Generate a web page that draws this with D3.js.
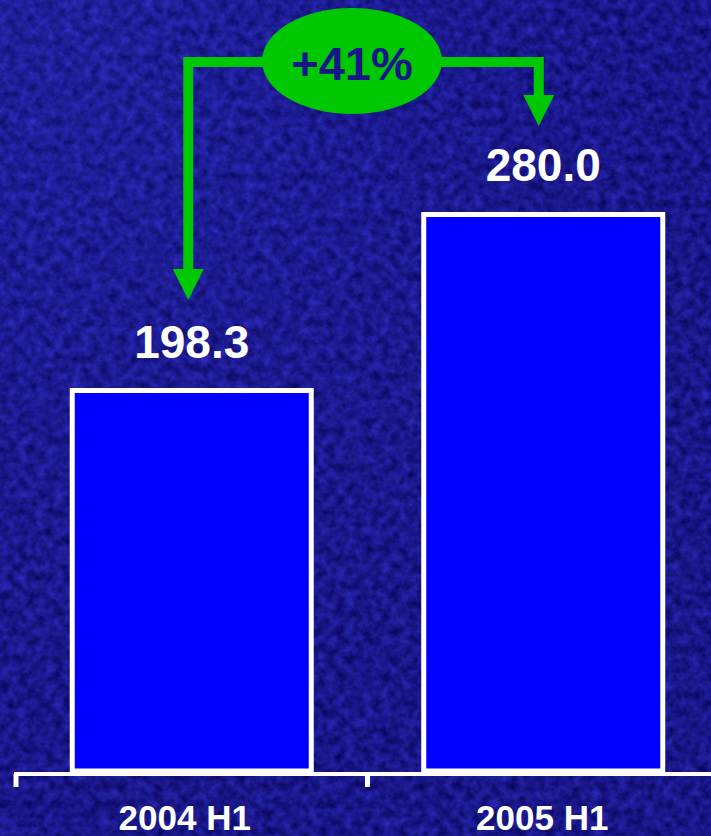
<!DOCTYPE html>
<html>
<head>
<meta charset="utf-8">
<script src="https://cdn.jsdelivr.net/npm/d3@7"></script>
<style>
  html, body { margin: 0; padding: 0; background: #1e1e90; }
  svg { display: block; }
</style>
</head>
<body>
<div id="chart"></div>
<script>
// Half-year results
const categories = ["2004 H1", "2005 H1"];
const values = [198.3, 280.0];
const valueLabels = ["198.3", "280.0"];
const growthLabel = "+41%";

const W = 711, H = 836;
const svg = d3.select("#chart").append("svg")
  .attr("width", W).attr("height", H);

// Textured dark-blue backdrop
const defs = svg.append("defs");
const f = defs.append("filter").attr("id", "tex")
  .attr("x", 0).attr("y", 0).attr("width", "100%").attr("height", "100%")
  .attr("color-interpolation-filters", "sRGB");
f.append("feTurbulence").attr("type", "fractalNoise")
  .attr("baseFrequency", "0.11").attr("numOctaves", 4).attr("seed", 7);
f.append("feColorMatrix").attr("type", "matrix").attr("values",
  "0.20 0 0 0 0.01  0.20 0 0 0 0.0  0.55 0 0 0 0.29  0 0 0 0 1");
svg.append("rect").attr("width", W).attr("height", H).attr("filter", "url(#tex)");

const grad = defs.append("radialGradient").attr("id", "glow")
  .attr("cx", "0.1").attr("cy", "0.05").attr("r", "0.9");
grad.append("stop").attr("offset", "0").attr("stop-color", "#3038c8").attr("stop-opacity", 0.18);
grad.append("stop").attr("offset", "1").attr("stop-color", "#000050").attr("stop-opacity", 0.12);
svg.append("rect").attr("width", W).attr("height", H).attr("fill", "url(#glow)");

// Scales
const x = d3.scaleBand().domain(categories).range([16, 719]).paddingInner(0.32).paddingOuter(0.16);
const baseY = 771;
const y = d3.scaleLinear().domain([21.7, 300]).range([baseY, 171.4]);

// Bars
svg.selectAll("rect.bar").data(values).join("rect")
  .attr("class", "bar")
  .attr("x", (d, i) => x(categories[i]))
  .attr("width", x.bandwidth())
  .attr("y", d => y(d))
  .attr("height", d => baseY - y(d))
  .attr("fill", "#0000ff")
  .attr("stroke", "#ffffff")
  .attr("stroke-width", 5);

// Value labels
svg.selectAll("text.val").data(values).join("text")
  .attr("class", "val")
  .attr("x", (d, i) => x(categories[i]) + x.bandwidth() / 2)
  .attr("y", d => y(d) - 33)
  .attr("text-anchor", "middle")
  .attr("font-family", "Liberation Sans, Arial, sans-serif")
  .attr("font-weight", "bold")
  .attr("font-size", 46)
  .attr("fill", "#ffffff")
  .text((d, i) => valueLabels[i]);

// Category axis
const axisX = d3.scaleBand().domain(categories).range([16, 719]);
const axisG = svg.append("g").attr("transform", "translate(0,774)");
axisG.append("line").attr("x1", 14).attr("x2", W).attr("y1", 0).attr("y2", 0)
  .attr("stroke", "#ffffff").attr("stroke-width", 4);
axisG.selectAll("line.tick").data(categories).join("line")
  .attr("class", "tick")
  .attr("x1", d => axisX(d)).attr("x2", d => axisX(d))
  .attr("y1", 0).attr("y2", 13)
  .attr("stroke", "#ffffff").attr("stroke-width", 5);
svg.selectAll("text.cat").data(categories).join("text")
  .attr("class", "cat")
  .attr("x", (d, i) => axisX(d) + axisX.bandwidth() / 2 - (i === 0 ? 7 : 1))
  .attr("y", 830)
  .attr("text-anchor", "middle")
  .attr("font-family", "Liberation Sans, Arial, sans-serif")
  .attr("font-weight", "bold")
  .attr("font-size", 35)
  .attr("fill", "#ffffff")
  .text(d => d);

// Growth connector between the two bars
const green = "#00c800";
const lineY = 62;
const xa = x(categories[0]) + x.bandwidth() / 2 - 3.5;
const xb = x(categories[1]) + x.bandwidth() / 2 - 4.5;
const tipA = y(values[0]) - 90.5;
const tipB = y(values[1]) - 88.5;
const headW = 31, headH = 31, shaft = 10;

svg.append("path")
  .attr("d", `M${xa},${tipA - headH + 2} L${xa},${lineY} L${xb},${lineY} L${xb},${tipB - headH + 2}`)
  .attr("fill", "none").attr("stroke", green).attr("stroke-width", shaft)
  .attr("stroke-linejoin", "miter");
[[xa, tipA], [xb, tipB]].forEach(([cx, ty]) => {
  svg.append("path")
    .attr("d", `M${cx - headW / 2},${ty - headH} L${cx + headW / 2},${ty - headH} L${cx},${ty} Z`)
    .attr("fill", green);
});

svg.append("ellipse")
  .attr("cx", 352).attr("cy", 61).attr("rx", 90).attr("ry", 53)
  .attr("fill", green);
svg.append("text")
  .attr("x", 352).attr("y", 80)
  .attr("text-anchor", "middle")
  .attr("font-family", "Liberation Sans, Arial, sans-serif")
  .attr("font-weight", "bold")
  .attr("font-size", 47)
  .attr("fill", "#16168a")
  .text(growthLabel);
</script>
</body>
</html>
